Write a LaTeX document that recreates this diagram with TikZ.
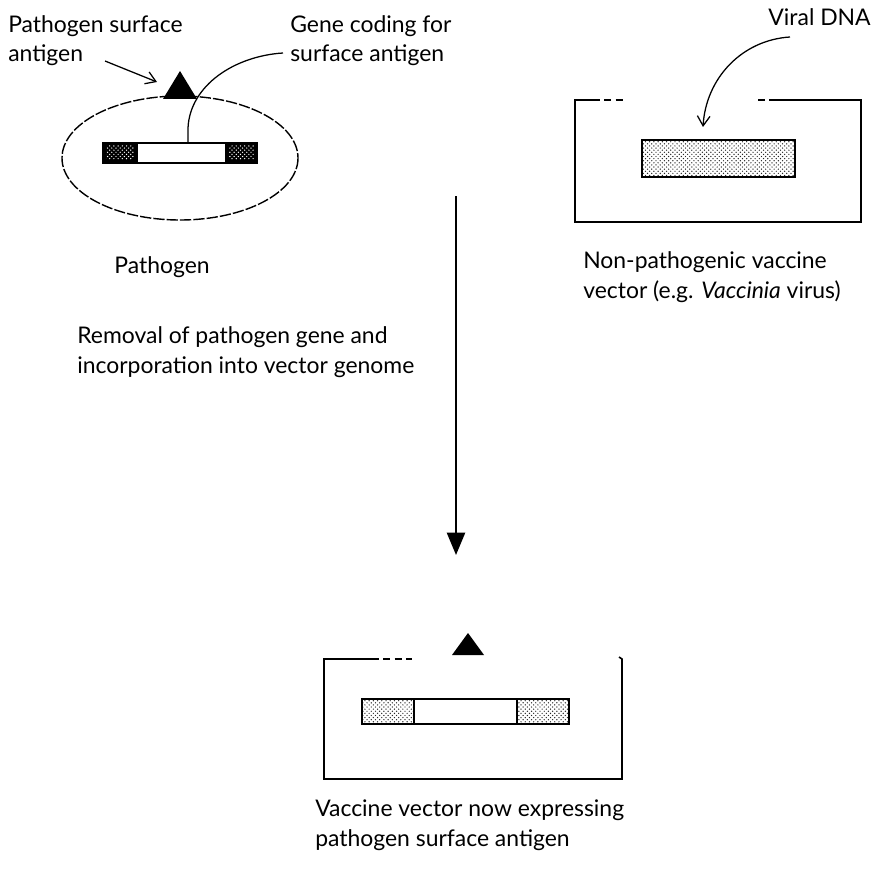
\documentclass[tikz,border=0pt]{standalone}
\usepackage{fontspec}
\setmainfont{Lato}
\usetikzlibrary{calc,arrows.meta,patterns}

\begin{document}
\begin{tikzpicture}[x=0.025cm,y=-0.025cm,
  lbl/.style={font=\fontsize{16.3}{21}\selectfont,align=left,inner sep=0pt},
  wall/.style={line width=1.1pt},
  dnafill/.style={pattern=crosshatch dots,pattern color=black!85},
  barb/.style={-{Straight Barb[length=7pt,width=9pt]},line width=0.9pt}]
  \useasboundingbox (0,0) rectangle (872,880);

  % pathogen with its gene and surface antigen
  \draw[line width=1pt,dash pattern=on 8pt off 1.5pt] (180,158) ellipse (118 and 62);
  \fill (103,143) rectangle (137,163);
  \fill (226,143) rectangle (257,163);
  \fill[pattern=crosshatch dots,pattern color=white] (106,146) rectangle (134,160);
  \fill[pattern=crosshatch dots,pattern color=white] (229,146) rectangle (254,160);
  \draw[wall] (103,143) rectangle (257,163);
  \draw[wall] (137,143) -- (137,163) (226,143) -- (226,163);
  \fill (163,99) -- (180,71) -- (197,99) -- cycle;
  \coordinate (genetop) at (188,143);
  \coordinate (geneend) at (283,53);
  \draw[line width=0.9pt] (genetop) -- (188,128) .. controls (190,85) and (235,56) .. (geneend);
  \coordinate (psatail) at (105,61);
  \coordinate (psatip) at (157,82);
  \draw[barb] (psatail) -- (psatip);

  % last line of each label sits on the given baseline
  \node[lbl,anchor=base west] (psa) at (8,62) {Pathogen surface\\antigen};
  \node[lbl,anchor=base west] (gcsa) at (290,62) {Gene coding for\\surface antigen};
  \node[lbl,anchor=base] (pathogen) at (162,273) {Pathogen};

  % vaccine vector, top open where the DNA goes in
  \draw[wall] (593,100) -- (575,100) -- (575,222) -- (861,222) -- (861,100) -- (775,100);
  \draw[wall,dash pattern=on 5pt off 3pt] (593,100) -- (625,100) (758,100) -- (775,100);
  \fill[dnafill] (642,140) rectangle (795,177);
  \draw[wall] (642,140) rectangle (795,177);
  \node[lbl,anchor=base east] (vdna) at (871,26) {Viral DNA};
  \coordinate (vdnatail) at (790,37);
  \coordinate (vdnatip) at (703,127);
  \draw[barb] (vdnatail) .. controls (742,40) and (706,78) .. (vdnatip);
  \node[lbl,anchor=base west] (vector) at (583,298)
    {Non-pathogenic vaccine\\vector (e.g. \textit{Vaccinia} virus)};

  % the step between them
  \coordinate (steptop) at (456,196);
  \coordinate (stepend) at (456,555);
  \draw[line width=1.4pt,-{Triangle[length=16pt,width=13pt]}] (steptop) -- (stepend);
  \node[lbl,anchor=base west] (removal) at (77,373)
    {Removal of pathogen gene and\\incorporation into vector genome};

  % recombinant vaccine vector
  \draw[wall] (372,659) -- (324,659) -- (324,779) -- (622,779) -- (622,659) -- (619,657);
  \draw[wall,dash pattern=on 5pt off 3pt] (372,659) -- (412,659);
  \fill (452,655) -- (468,633) -- (484,655) -- cycle;
  \fill[dnafill] (362,699) rectangle (414,724);
  \fill[dnafill] (517,699) rectangle (569,724);
  \draw[wall] (362,699) rectangle (569,724);
  \draw[wall] (414,699) -- (414,724) (517,699) -- (517,724);
  \node[lbl,anchor=base west] (recomb) at (315,846)
    {Vaccine vector now expressing\\pathogen surface antigen};
\end{tikzpicture}
\end{document}
